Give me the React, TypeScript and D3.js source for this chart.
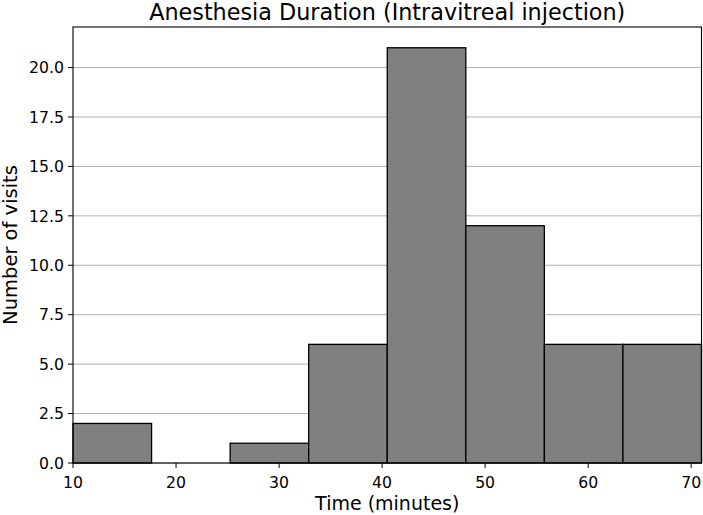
import React from "react";
import * as d3 from "d3";

const binEdges = [10, 17.625, 25.25, 32.875, 40.5, 48.125, 55.75, 63.375, 71];
const counts = [2, 0, 1, 6, 21, 12, 6, 6];
const xTicks = [10, 20, 30, 40, 50, 60, 70];
const yTicks = [0, 2.5, 5, 7.5, 10, 12.5, 15, 17.5, 20];

const title = "Anesthesia Duration (Intravitreal injection)";
const xLabel = "Time (minutes)";
const yLabel = "Number of visits";

export default function App() {
  const W = 703, H = 515;
  const left = 73, right = 701.5, top = 27, bottom = 463;
  const x = d3.scaleLinear().domain([10, 71]).range([left, right]);
  const y = d3.scaleLinear().domain([0, 22.05]).range([bottom, top]);
  const font = "DejaVu Sans, sans-serif";
  return (
    <svg width={W} height={H} style={{ position: "absolute", left: 0, top: 0 }} fontFamily={font}>
      <rect x={0} y={0} width={W} height={H} fill="white" />
      {yTicks.map((t) => (
        <line key={"g" + t} x1={left} x2={right} y1={y(t)} y2={y(t)} stroke="#b0b0b0" strokeWidth={1} />
      ))}
      {counts.map((c, i) => (
        <rect
          key={i}
          x={x(binEdges[i])}
          y={y(c)}
          width={x(binEdges[i + 1]) - x(binEdges[i])}
          height={y(0) - y(c)}
          fill="#808080"
          stroke="black"
          strokeWidth={1.3}
        />
      ))}
      <rect x={left} y={top} width={right - left} height={bottom - top} fill="none" stroke="black" strokeWidth={1.1} />
      {xTicks.map((t) => (
        <g key={"x" + t}>
          <line x1={x(t)} x2={x(t)} y1={bottom} y2={bottom + 5} stroke="black" strokeWidth={1} />
          <text x={x(t)} y={bottom + 25} textAnchor="middle" fontSize={15.7} fill="black">{t}</text>
        </g>
      ))}
      {yTicks.map((t) => (
        <g key={"y" + t}>
          <line x1={left - 5} x2={left} y1={y(t)} y2={y(t)} stroke="black" strokeWidth={1} />
          <text x={left - 9} y={y(t) + 5.7} textAnchor="end" fontSize={15.7} fill="black">{t.toFixed(1)}</text>
        </g>
      ))}
      <text x={(left + right) / 2} y={20} textAnchor="middle" fontSize={22.3} fill="black">{title}</text>
      <text x={(left + right) / 2} y={510} textAnchor="middle" fontSize={19} fill="black">{xLabel}</text>
      <text transform={`translate(17,${(top + bottom) / 2}) rotate(-90)`} textAnchor="middle" fontSize={19.5} fill="black">{yLabel}</text>
    </svg>
  );
}
